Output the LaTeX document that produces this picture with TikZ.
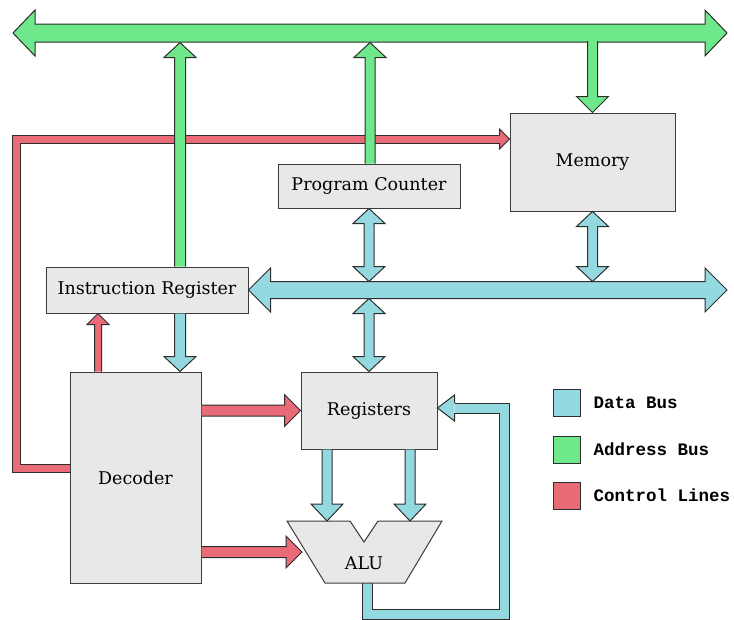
\documentclass[tikz,border=0pt]{standalone}
\usepackage{fontspec}
\usetikzlibrary{calc, positioning, backgrounds}
\newfontfamily\serifbox{DejaVu Serif}
\newfontfamily\monokey{Liberation Mono}
\definecolor{cpuedge}{RGB}{45,45,45}
\definecolor{cpubox}{RGB}{232,232,232}
\definecolor{cpuboxline}{RGB}{60,60,60}
\definecolor{datablue}{RGB}{149,217,224}
\definecolor{addrgreen}{RGB}{110,232,138}
\definecolor{ctrlred}{RGB}{233,107,120}
\tikzset{
  unit/.style={
    rectangle, draw=cpuboxline, fill=cpubox, line width=1pt,
    font=\serifbox\fontsize{17.5}{20}\selectfont, inner sep=0pt
  },
  fat/.style={draw=cpuedge, line width=1pt, line join=miter},
  dfat/.style={fat, fill=datablue},
  afat/.style={fat, fill=addrgreen},
  cfat/.style={fat, fill=ctrlred},
  cloop/.style={draw=cpuedge, line width=1pt, double=ctrlred, double distance=7pt, line join=miter},
  dloop/.style={draw=cpuedge, line width=1pt, double=datablue, double distance=9pt, line join=miter},
  keybox/.style={rectangle, draw=cpuedge, line width=1pt, minimum size=27pt, inner sep=0pt},
  keytext/.style={font=\monokey\bfseries\fontsize{17.5}{20}\selectfont, inner sep=0pt},
}
% fat arrow from #2 to #3: style, shaft half width, head half width, head length
\newcommand{\fatarrow}[6]{%
  \path[#1] ($(#2)!#4!90:(#3)$)
    -- ($(#3)!#6!(#2)!#4!90:(#3)$) -- ($(#3)!#6!(#2)!#5!90:(#3)$) -- (#3)
    -- ($(#3)!#6!(#2)!#5!-90:(#3)$) -- ($(#3)!#6!(#2)!#4!-90:(#3)$)
    -- ($(#2)!#4!-90:(#3)$);}
% same, with a head at both ends
\newcommand{\fatdarrow}[6]{%
  \path[#1] (#2)
    -- ($(#2)!#6!(#3)!#5!90:(#3)$) -- ($(#2)!#6!(#3)!#4!90:(#3)$)
    -- ($(#3)!#6!(#2)!#4!90:(#3)$) -- ($(#3)!#6!(#2)!#5!90:(#3)$) -- (#3)
    -- ($(#3)!#6!(#2)!#5!-90:(#3)$) -- ($(#3)!#6!(#2)!#4!-90:(#3)$)
    -- ($(#2)!#6!(#3)!#4!-90:(#3)$) -- ($(#2)!#6!(#3)!#5!-90:(#3)$) -- cycle;}
% only the head, for bent lines
\newcommand{\fathead}[6]{%
  \path[#1] ($(#3)!#6!(#2)!#4!90:(#3)$) -- ($(#3)!#6!(#2)!#5!90:(#3)$) -- (#3)
    -- ($(#3)!#6!(#2)!#5!-90:(#3)$) -- ($(#3)!#6!(#2)!#4!-90:(#3)$);}

\begin{document}
\begin{tikzpicture}[x=1pt, y=-1pt]
  \useasboundingbox (0,0) rectangle (734,619);

  \node[unit, minimum width=165pt, minimum height=98pt]  (mem) at (592.5,162)   {Memory};
  \node[unit, minimum width=182pt, minimum height=44pt]  (pc)  at (369,186)     {Program Counter};
  \node[unit, minimum width=202pt, minimum height=46pt]  (ir)  at (147,290)     {Instruction Register};
  \node[unit, minimum width=131pt, minimum height=211pt] (dec) at (135.5,477.5) {Decoder};
  \node[unit, minimum width=136pt, minimum height=77pt]  (reg) at (369,410.5)   {Registers};

  % ALU
  \path[unit] (287,521) -- (350,521) -- (364,542) -- (378,521) -- (442,521)
    -- (405,583) -- (325,583) -- cycle;
  \node[font=\serifbox\fontsize{17.5}{20}\selectfont] (alu) at (364,563) {ALU};

  \coordinate (abusL) at (13,33);
  \coordinate (abusR) at (727,33);
  \coordinate (abot) at (0,42.5);
  \coordinate (dbusR) at (727,290);
  \coordinate (dtop) at (0,281.5);
  \coordinate (dbot) at (0,298.5);
  \coordinate (alutop) at (0,521);
  \coordinate (aluin) at (302,552);

  % control line round the left side
  \coordinate (lpA) at ($(dec.west)+(0,-9.5)$);
  \coordinate (lpB) at (16,468);
  \coordinate (lpC) at (16,139);
  \coordinate (lpD) at (mem.west |- lpC);
  % ALU result back to the registers
  \coordinate (lqA) at (367,578);
  \coordinate (lqB) at (367,614);
  \coordinate (lqC) at (504,614);
  \coordinate (lqD) at (504,408);
  \coordinate (lqE) at (reg.east |- lqD);
  \begin{scope}[on background layer]
    \draw[cloop] (lpA) -- (lpB) -- (lpC) -- ($(lpD)!10pt!(lpC)$);
    \draw[dloop] (lqA) -- (lqB) -- (lqC) -- (lqD) -- ($(lqE)!17pt!(lqD)$);
  \end{scope}
  \fathead{cfat}{lpC}{lpD}{4pt}{10pt}{10pt}
  \fathead{dfat}{lqD}{lqE}{5pt}{13pt}{17pt}

  % address bus
  \fatdarrow{afat}{abusL}{abusR}{9pt}{23pt}{22pt}
  \coordinate (irA) at ($(ir.north)+(33,0)$);
  \coordinate (irB) at (irA |- abot);
  \fatarrow{afat}{irA}{irB}{5.5pt}{16pt}{15pt}
  \coordinate (pcA) at ($(pc.north)+(1,0)$);
  \coordinate (pcB) at (pcA |- abot);
  \fatarrow{afat}{pcA}{pcB}{5pt}{16pt}{15pt}
  \coordinate (memA) at ($(mem.north |- abot)+(0,-1.5)$);
  \fatarrow{afat}{memA}{mem.north}{5pt}{16pt}{16pt}

  % data bus
  \fatdarrow{dfat}{ir.east}{dbusR}{8.5pt}{22pt}{22pt}
  \coordinate (pcC) at (pc.south |- dtop);
  \fatdarrow{dfat}{pc.south}{pcC}{5pt}{16pt}{15pt}
  \coordinate (memB) at (mem.south |- dtop);
  \fatdarrow{dfat}{mem.south}{memB}{5pt}{16pt}{15pt}
  \coordinate (regA) at (reg.north |- dbot);
  \fatdarrow{dfat}{regA}{reg.north}{5pt}{16pt}{15pt}
  \coordinate (irC) at ($(ir.south)+(33,0)$);
  \coordinate (irD) at (irC |- dec.north);
  \fatarrow{dfat}{irC}{irD}{5.5pt}{16pt}{15pt}
  \coordinate (regB) at ($(reg.south)+(-42,0)$);
  \coordinate (regC) at (regB |- alutop);
  \fatarrow{dfat}{regB}{regC}{5pt}{16pt}{17pt}
  \coordinate (regD) at ($(reg.south)+(41,0)$);
  \coordinate (regE) at (regD |- alutop);
  \fatarrow{dfat}{regD}{regE}{5pt}{16pt}{17pt}

  % control lines
  \coordinate (decA) at ($(dec.north)+(-37.5,0)$);
  \coordinate (decB) at (decA |- ir.south);
  \fatarrow{cfat}{decA}{decB}{3.5pt}{11pt}{11pt}
  \coordinate (decC) at (dec.east |- reg.west);
  \fatarrow{cfat}{decC}{reg.west}{5.5pt}{16pt}{16pt}
  \coordinate (decD) at (dec.east |- aluin);
  \fatarrow{cfat}{decD}{aluin}{5.5pt}{16pt}{16pt}

  % key
  \node[keybox, fill=datablue] (kdata) at (566.5,402.5) {};
  \node[keybox, fill=addrgreen, below=19pt of kdata] (kaddr) {};
  \node[keybox, fill=ctrlred, below=18pt of kaddr] (kctrl) {};
  \node[keytext, right=13pt of kdata] (tdata) {Data Bus};
  \node[keytext, right=13pt of kaddr] (taddr) {Address Bus};
  \node[keytext, right=13pt of kctrl] (tctrl) {Control Lines};
\end{tikzpicture}
\end{document}
